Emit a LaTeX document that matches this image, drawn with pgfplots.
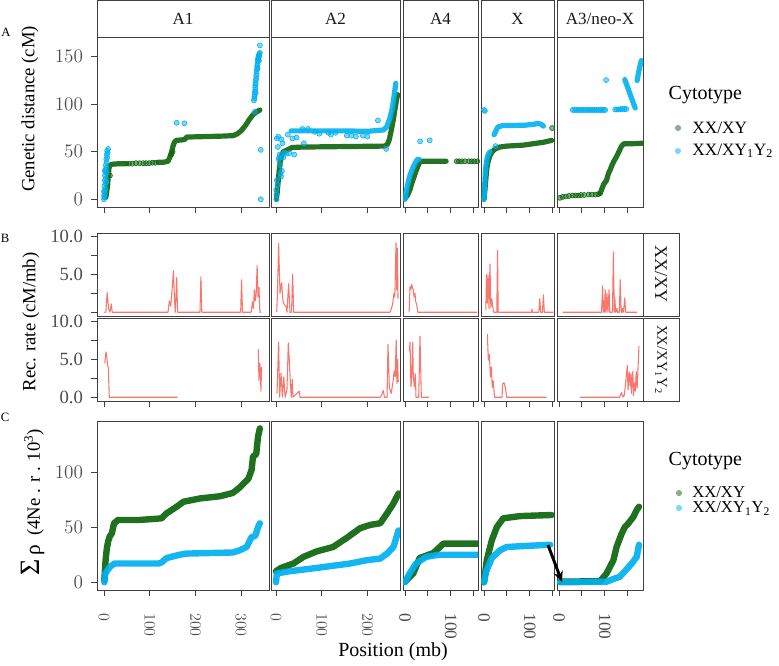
\documentclass[border=0pt]{standalone}
\usepackage{pgfplots}
\pgfplotsset{compat=1.18}
\usepackage{fontspec}
\setmainfont{Liberation Serif}
\usetikzlibrary{arrows.meta}
\definecolor{gA}{RGB}{12,100,12}
\definecolor{bA}{RGB}{0,176,240}
\definecolor{rB}{RGB}{248,118,109}
\definecolor{brd}{RGB}{64,64,64}
\definecolor{tkc}{RGB}{77,77,77}
\newcommand{\tickfont}{\fontsize{14}{16}\selectfont}
\pgfplotsset{
  base/.style={scale only axis, anchor=south west,
    axis line style={draw=brd, line width=0.65pt},
    every tick/.append style={draw=brd, line width=0.65pt},
    tick align=outside, major tick length=4.3pt,
    xtick pos=bottom, ytick pos=left,
    ticklabel style={font=\tickfont, text=tkc},
    yticklabel style={inner sep=0pt, xshift=-6pt},
    scaled ticks=false},
  cA1/.style={xmin=-15.3, xmax=361, xtick={0,100,200,300}, width=129pt},
  cA2/.style={xmin=-10.9, xmax=271.3, xtick={0,100,200}, width=96.75pt},
  cA4/.style={xmin=-4.4, xmax=159.7, xtick={0,50,100,150}, width=56.25pt},
  cX/.style={xmin=-6.6, xmax=153.2, xtick={0,50,100,150}, width=54.75pt},
  cA3/.style={xmin=-4.4, xmax=183.8, xtick={0,50,100,150}, width=64.5pt},
  rA/.style={ymin=-8.1, ymax=170.8, height=127.5pt},
  rowB/.style={ymin=-0.5, ymax=10.5, height=62.25pt},
  rC/.style={ymin=-7, ymax=146.2, height=126.75pt},
  noxl/.style={xticklabels={}},
  noy/.style={ytick=\empty},
  rotx/.style={xticklabel shift=13pt, xticklabel style={font=\fontsize{13}{15}\selectfont, rotate=-90, anchor=west, inner sep=0pt}},
  gpts/.style={only marks, mark=*, mark size=1.9pt, color=gA, mark options={draw=none, fill=gA, fill opacity=0.5}},
  bpts/.style={only marks, mark=*, mark size=1.9pt, color=bA, mark options={draw=none, fill=bA, fill opacity=0.5}},
  gline/.style={draw=gA, line width=3.9pt, line cap=round, line join=round, draw opacity=0.9, mark=none},
  bline/.style={draw=bA, line width=3.9pt, line cap=round, line join=round, draw opacity=0.9, mark=none},
  gthick/.style={draw=gA, line width=4.8pt, line cap=round, line join=round, draw opacity=0.92, mark=none},
  bthick/.style={draw=bA, line width=4.8pt, line cap=round, line join=round, draw opacity=0.92, mark=none},
  rline/.style={draw=rB, line width=0.8pt, line join=round, mark=none},
}
\begin{document}
\begin{tikzpicture}
\path[use as bounding box] (0,0) rectangle (584.25pt,498.75pt);
% strips top
\tikzset{stripbox/.style={draw=brd, line width=0.65pt, fill=white}}
\newcommand{\stripfont}{\fontsize{12.8}{14}\selectfont}
\draw[stripbox] (72.75pt,471pt) rectangle (201.75pt,498.5pt) node[midway, font=\stripfont, text=black!90] {A1};
\draw[stripbox] (203.25pt,471pt) rectangle (300pt,498.5pt) node[midway, font=\stripfont, text=black!90] {A2};
\draw[stripbox] (302.25pt,471pt) rectangle (358.5pt,498.5pt) node[midway, font=\stripfont, text=black!90] {A4};
\draw[stripbox] (360.75pt,471pt) rectangle (415.5pt,498.5pt) node[midway, font=\stripfont, text=black!90] {X};
\draw[stripbox] (417.75pt,471pt) rectangle (482.25pt,498.5pt) node[midway, font=\stripfont, text=black!90] {A3/neo-X};
% right strips
\draw[stripbox] (482.25pt,261.75pt) rectangle (509.25pt,324pt) node[midway, rotate=-90, font=\fontsize{13.5}{15}\selectfont, text=black!90] {XX/XY};
\draw[stripbox] (482.25pt,198pt) rectangle (509.25pt,260.25pt) node[midway, rotate=-90, font=\fontsize{11}{12}\selectfont, text=black!90] {XX/XY\textsubscript{1}Y\textsubscript{2}};

%================ ROW A =================
\begin{axis}[base, cA1, rA, at={(72.75pt,343.5pt)}, ytick={0,50,100,150}, noxl]
\addplot[gline] coordinates {(4,2) (6,8) (8,15) (9,22) (10,28) (11,33) (13,36) (20,37) (35,37.5) (50,37.5)};
\addplot[gpts] coordinates {(55,37.5)(62,37.5)(70,38)(78,38)(86,38)(92,38)(99,38)(106,38.5)(112,38.5)(147,47)(150,50)(13,25)};
\addplot[gline] coordinates {(118,39)(130,39)(140,40)(144,44)(148,50)(151,56)(154,60)(158,62)(170,62.5)(177,63)(181,65.5)(220,66)(260,66.5)(283,67)(292,69)(300,72)(310,78)(318,84)(326,89)(334,92)(341,94)};
\addplot[bpts] coordinates {(0,0)(1,2)(0,4)(2,6)(1,9)(3,11)(1,14)(3,17)(2,20)(4,22)(2,25)(4,28)(3,31)(5,33)(4,36)(6,39)(5,42)(7,44)(6,47)(8,49)(7,51)(9,53)(0,8)(2,30)(6,28)(5,18)(159,80.5)(176,80)
(329,106)(330,110)(331,115)(331,120)(332,125)(333,130)(334,135)(335,140)(336,145)(337,148)(338,150)(339,152)(340,153)(341,162)(343,52)(343,0)(330,92)(328,104)(332,112)(336,138)(339,146)
(329,108)(330,113)(331,118)(332,122)(333,127)(334,132)(335,137)(336,142)(337,146)(338,149)(340,151)(341,154)};
\end{axis}

\begin{axis}[base, cA2, rA, at={(203.25pt,343.5pt)}, noy, noxl]
\addplot[gline] coordinates {(1,0)(3,9)(5,20)(7,30)(9,39)(12,46)(16,50)(25,52)(35,54.5)(60,55)(150,55.5)(238,56)(244,58)(248,63)(252,72)(256,82)(260,94)(263,103)(266,110)};
\addplot[bline] coordinates {(33,72)(100,72)(150,72)(200,71.5)(235,73)(242,76)(249,85)(255,97)(259,111)(262,122)};
\addplot[bpts] coordinates {(1,0)(1,5)(0.5,10)(2,20)(2,64)(5,66)(4,55)(8,47)(9,36)(10,27)(11,24)(12,63)(14,59)(18,49)(29,48.5)(40,47)(36,64)(58,74)(61,59)(6,42)(7,44)(3,15)(13,30)(16,44)(22,48)(26,68)(45,65)(155,67)(165,67)(175,66)(190,67)(200,66)(115,70)(120,68)(130,70)(223,83)(241,53)(70,74)(85,71)(95,69)};
\end{axis}

\begin{axis}[base, cA4, rA, at={(302.25pt,343.5pt)}, noy, noxl]
\addplot[gline] coordinates {(0,1)(5,4)(10,9)(15,17)(20,24)(25,31)(30,37)(34,40)(90,40)};
\addplot[gpts] coordinates {(113,40)(118,40)(124,40)(131,40)(140,40)(146,40)(152,40)(158,40)};
\addplot[bline] coordinates {(0,0)(2,6)(5,14)(8,20)(12,27)(17,33)(22,38)(27,42)(31,42)};
\addplot[bpts] coordinates {(33,61)(54,62)};
\end{axis}

\begin{axis}[base, cX, rA, at={(360.75pt,343.5pt)}, noy, noxl]
\addplot[gline] coordinates {(0,0)(2,10)(4,21)(6,32)(9,40)(13,46)(18,50)(24,53)(35,55)(50,56)(86,57)(115,59)(130,60)(148,62)};
\addplot[gpts] coordinates {(149,75)};
\addplot[bline] coordinates {(0,0)(1,10)(2,20)(3,30)(5,38)(7,44)(10,48)(13,50)};
\addplot[bline] coordinates {(22,68)(26,72)(30,76)(40,77.5)(90,78)(110,79)(117,80)(125,79)(130,77)};
\addplot[bpts] coordinates {(25,56)(0,94)(2,93)};
\end{axis}

\begin{axis}[base, cA3, rA, at={(417.75pt,343.5pt)}, noy, noxl]
\addplot[gpts] coordinates {(2,1.5)(8,2.5)(15,3)(22,3.5)(30,4)(36,4)(42,4)(48,4.5)(55,4.5)(65,5)(72,5)(80,5)(86,5.5)};
\addplot[gline] coordinates {(90,6)(93,10)(98,16)(104,20)(108,27)(112,31)(116,36)(120,40)(126,45)(132,51)(137,56)(142,58.5)(160,58.5)(182,59)};
\addplot[bpts] coordinates {(30,94)(34,94)(38,94)(42,94)(46,94)(50,94)(54,94)(58,94)(62,94)(66,94)(70,94)(74,94)(78,94)(82,94)(86,94)(90,94)(94,94)(98,94)(101,94)(123,94.5)(127,94.5)(131,94.5)(135,95)(139,95)(143,95)(147,95)(103,125.5)};
\addplot[bline] coordinates {(144,126)(150,118)(156,110)(162,102)(167,96)};
\addplot[bline] coordinates {(171,125)(174,133)(177,140)(180,146)};
\end{axis}

%================ ROW B top =================
\begin{axis}[base, cA1, rowB, at={(72.75pt,261.75pt)}, ytick={0,2.5,5,7.5,10}, yticklabels={,,5.0,,10.0}, xtick=\empty]
\addplot[rline] coordinates {(1,0)(4,0)(7,2.6)(10,0.5)(13,0)(16,1.1)(18,0)(140,0)(143,1.5)(146,0.8)(149,3)(152,5.5)(154,2)(156,0)(159,4.6)(161,0)(210,0)(212,4.7)(214,0)(299,0)(301,4.3)(303,0)(322,0)(325,1.4)(327,0.5)(329,3.0)(331,1.5)(333,2.5)(335,6.2)(337,2.0)(339,3.3)(341,0)(344,0)};
\end{axis}
\begin{axis}[base, cA2, rowB, at={(203.25pt,261.75pt)}, noy, xtick=\empty]
\addplot[rline] coordinates {(1.5,0)(3,2)(5.8,9.1)(8.8,2.5)(10,3.0)(12.4,3.9)(15.3,1.5)(18.2,1.0)(21.9,0.8)(24,0)(27.7,3.8)(30.6,0)(34,0)(36.5,5.05)(38.7,0)(249.5,0)(255,1.0)(258,2.5)(260,2.0)(262.6,9.2)(264,3)(265.5,8.5)(267,1.8)};
\end{axis}
\begin{axis}[base, cA4, rowB, at={(302.25pt,261.75pt)}, noy, xtick=\empty]
\addplot[rline] coordinates {(9,0)(11,3.4)(13,3.0)(14.6,3.7)(16,3.3)(18,3.0)(20,2.0)(21.9,2.5)(23,1.5)(25.5,1.0)(28,0)(31,0)(158,0)};
\end{axis}
\begin{axis}[base, cX, rowB, at={(360.75pt,261.75pt)}, noy, xtick=\empty]
\addplot[rline] coordinates {(4,0.3)(5.5,5.0)(7,1.2)(9,4.9)(11,0.5)(13,6.4)(15,0.6)(17,1.8)(19,0.8)(21,0)(28,0)(29.6,8.2)(31,0)(104,0)(105,0.4)(106,0)(120,0)(122,1.8)(124,0)(128,0)(130,2.3)(132,0)(152,0)};
\end{axis}
\begin{axis}[base, cA3, rowB, at={(417.75pt,261.75pt)}, noy, xtick=\empty]
\addplot[rline] coordinates {(8,0)(93,0)(95.5,3.5)(97,0)(98,1.5)(99.5,0)(101,3.0)(103,0)(105,2.5)(107,0)(109.6,3.0)(111,0)(117,0)(119,8.0)(121,0)(122,2.0)(124,0)(127,0.5)(128,0)(132,0)(134,4.3)(136,0)(138,0)(139,0.5)(141,0)(144,1.9)(145.6,0)(171,0)};
\end{axis}

%================ ROW B bottom =================
\begin{axis}[base, cA1, rowB, at={(72.75pt,198pt)}, ytick={0,2.5,5,7.5,10}, yticklabels={0.0,,5.0,,10.0}, noxl]
\addplot[rline] coordinates {(1.6,4.5)(4.5,6.0)(5.9,5.5)(8,4.2)(9.4,4.0)(11.6,0)(161,0)};
\addplot[rline] coordinates {(337.7,6.4)(339,2.2)(340.5,4.5)(342,3.8)(343.3,0.8)(344.8,4.0)};
\end{axis}
\begin{axis}[base, cA2, rowB, at={(203.25pt,198pt)}, noy, noxl]
\addplot[rline] coordinates {(2.2,0.5)(5.8,7.3)(8,0)(11,3.2)(14,0)(17,2.7)(20,0)(24,1.0)(27,7.2)(29,5.0)(31.4,2.0)(33.5,0)(35.7,2.4)(37,0)(51,0.8)(52.5,0)(228,0)(232,0.4)(234.5,0.9)(237.5,0)(243,0)(245,7.0)(248,1.3)(252,0.5)(256,2)(258.7,3.5)(260.8,2.7)(263,7.6)(264.5,1.8)(266,5.0)(267.5,2.0)};
\end{axis}
\begin{axis}[base, cA4, rowB, at={(302.25pt,198pt)}, noy, noxl]
\addplot[rline] coordinates {(9.5,6.1)(11,7.3)(13,1.4)(14.6,2.5)(16.8,7.3)(18,3.1)(20.4,1.4)(22.6,3.1)(24,0)(27,0)(30,0)(32.8,8.1)(35.7,0)(53,0)};
\end{axis}
\begin{axis}[base, cX, rowB, at={(360.75pt,198pt)}, noy, noxl]
\addplot[rline] coordinates {(7.3,8.4)(9.5,4.9)(11.7,5.7)(14,2.7)(16,4.0)(18,1.3)(20,2.2)(23,0)(39.4,0)(40.8,1.8)(43.8,1.9)(46.7,1.3)(49.6,0)(137,0)};
\end{axis}
\begin{axis}[base, cA3, rowB, at={(417.75pt,198pt)}, noy, noxl]
\addplot[rline] coordinates {(46,0)(132,0)(137,0.6)(140,0)(143,0.3)(149.5,4.2)(151,1.0)(152.5,2.5)(154,3.3)(155.5,1.5)(157,3.1)(158.5,0.5)(160,2.5)(161.5,3.4)(163,0.2)(165,1.9)(167,0.8)(169,3.4)(171,1.2)(173,4.0)(175,6.8)};
\end{axis}

%================ ROW C =================
\begin{axis}[base, cA1, rC, at={(72.75pt,56.25pt)}, ytick={0,50,100}, rotx]
\addplot[gthick] coordinates {(0.7,2)(2,10)(3.5,20)(6,30)(9,37)(13,42)(17,44)(22,53.5)(31,56.5)(78,56.5)(112,57.5)(126,58)(137,62.5)(159,68.5)(174,73)(210,76)(254,78)(282,81)(297,86)(316,94)(323,102)(326,114)(333,116)(337,132)(341,139.5)};
\addplot[bthick] coordinates {(0.7,0)(3,8)(13,14)(23,17)(119,17)(126,18)(137,22)(166,25)(180,26)(282,27)(297,29)(312,32)(323,41)(331,42)(337,50)(341,53.5)};
\end{axis}
\begin{axis}[base, cA2, rC, at={(203.25pt,56.25pt)}, noy, rotx]
\addplot[gthick] coordinates {(0,10)(11,13)(38,17)(60,23)(89,28)(125,32)(154,40)(184,49)(206,52)(228,53.5)(243,62.5)(257,71.5)(268,80.5)};
\addplot[bthick] coordinates {(0,0)(2,8)(30,10)(89,13)(162,17)(198,20)(228,21.5)(243,26)(257,32)(268,47)};
\end{axis}
\begin{axis}[base, cA4, rC, at={(302.25pt,56.25pt)}, noy, rotx, xticklabels={0,,100,}]
\addplot[gthick] coordinates {(0,0.5)(18,8)(32,22)(62,26.5)(84,35)(158,35)};
\addplot[bthick] coordinates {(0,0)(10,8)(24,17)(46,23)(75,25)(158,25)};
\end{axis}
\begin{axis}[base, cX, rC, at={(360.75pt,56.25pt)}, noy, rotx, xticklabels={0,,100,}]
\addplot[gthick] coordinates {(0,0)(6,20)(17,38)(28,50)(42,58)(79,60)(148,61)};
\addplot[bthick] coordinates {(0,0)(5,10)(17,22)(35,29)(50,32)(94,33)(145,34)};
\end{axis}
\begin{axis}[base, cA3, rC, at={(417.75pt,56.25pt)}, noy, rotx, xticklabels={0,,100,}]
\addplot[gthick] coordinates {(2,0.5)(90,1)(104,8)(119,20)(126,32)(137,44)(144,50)(152,53.5)(163,59.5)(170,65.5)(175,68.5)};
\addplot[bthick] coordinates {(2,0)(104,0.5)(119,3)(133,5)(144,10)(159,17)(170,23)(175,34)};
\end{axis}

% arrow
\draw[line width=2.2pt, -{Stealth[length=8pt,width=7pt]}] (411pt,90pt) -- (421.5pt,62.25pt);

% axis titles
\node[rotate=90, font=\fontsize{14}{16}\selectfont] at (22.5pt,417pt) {Genetic distance (cM)};
\node[rotate=90, font=\fontsize{14}{16}\selectfont] at (23.25pt,257.25pt) {Rec. rate (cM/mb)};
\node[rotate=90, font=\fontsize{14}{16}\selectfont] at (24.75pt,122.25pt) {{\fontsize{21}{22}\selectfont Σ}\,{\fontsize{16}{18}\selectfont ρ}\ \ (4Ne . r . 10\textsuperscript{3})};
\node[font=\fontsize{15}{17}\selectfont] at (294.75pt,9.75pt) {Position (mb)};
% panel letters
\node[font=\fontsize{9.5}{11}\selectfont] at (4.5pt,474.75pt) {A};
\node[font=\fontsize{9.5}{11}\selectfont] at (3.75pt,320.25pt) {B};
\node[font=\fontsize{9.5}{11}\selectfont] at (3.75pt,186pt) {C};
% legends
\node[anchor=west, font=\fontsize{15}{17}\selectfont] at (498pt,427.5pt) {Cytotype};
\fill[gA, fill opacity=0.5] (508.5pt,402.75pt) circle (2.3pt);
\fill[bA, fill opacity=0.5] (508.5pt,385.5pt) circle (2.3pt);
\node[anchor=west, inner sep=0pt, font=\fontsize{13}{15}\selectfont] at (519pt,402.75pt) {XX/XY};
\node[anchor=west, inner sep=0pt, font=\fontsize{13}{15}\selectfont] at (519pt,385.5pt) {XX/XY\textsubscript{1}Y\textsubscript{2}};
\node[anchor=west, font=\fontsize{15}{17}\selectfont] at (498pt,153pt) {Cytotype};
\fill[gA, fill opacity=0.5] (509.25pt,129pt) circle (2.3pt);
\fill[bA, fill opacity=0.5] (509.25pt,117.75pt) circle (2.3pt);
\node[anchor=west, inner sep=0pt, font=\fontsize{12.5}{13}\selectfont] at (519pt,129.5pt) {XX/XY};
\node[anchor=west, inner sep=0pt, font=\fontsize{12.5}{13}\selectfont] at (519pt,117.25pt) {XX/XY\textsubscript{1}Y\textsubscript{2}};
\end{tikzpicture}
\end{document}
